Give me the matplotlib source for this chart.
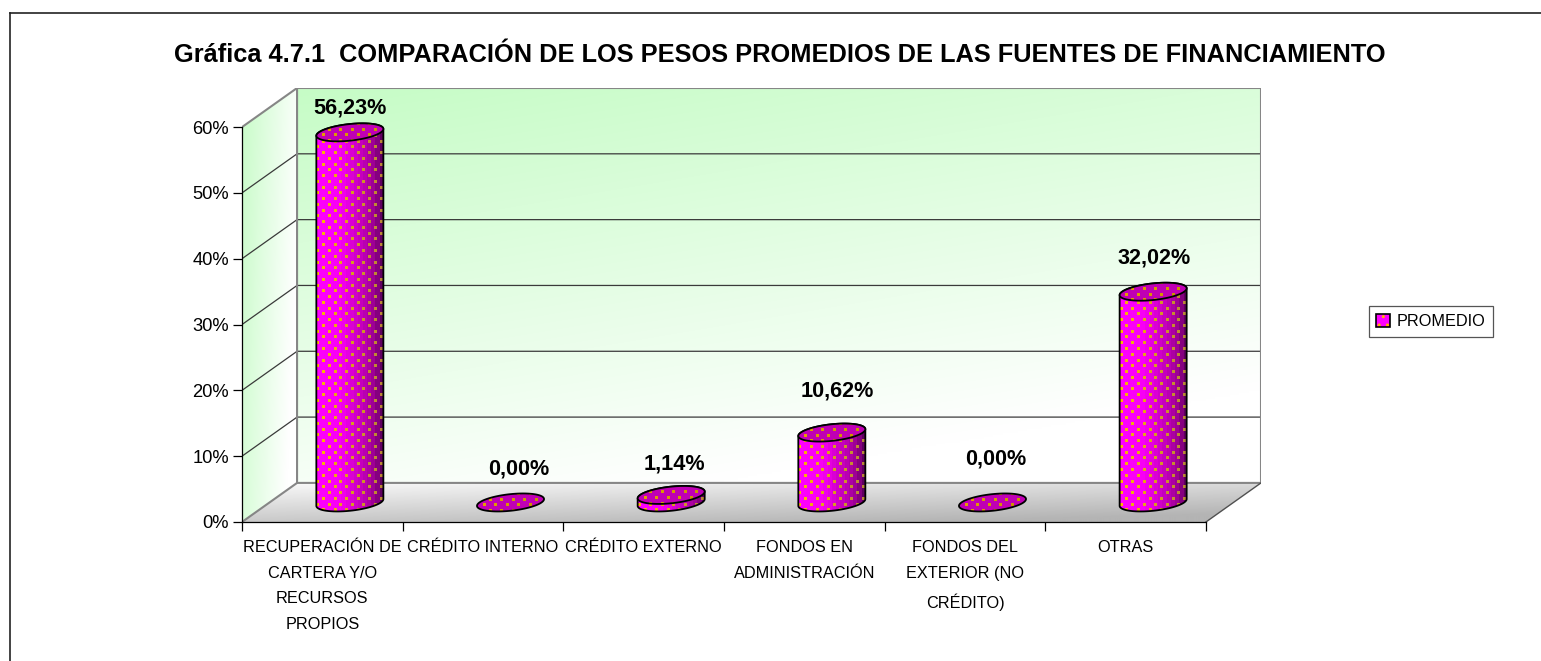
import numpy as np
import matplotlib
matplotlib.use('Agg')
import matplotlib.pyplot as plt
from matplotlib.colors import LinearSegmentedColormap, to_rgb
from matplotlib.legend_handler import HandlerTuple
from matplotlib.lines import Line2D
from matplotlib.patches import Patch, Polygon

# Chart values
categories = ['RECUPERACIÓN DE\nCARTERA Y/O\nRECURSOS\nPROPIOS', 'CRÉDITO INTERNO', 'CRÉDITO EXTERNO',
              'FONDOS EN\nADMINISTRACIÓN', 'FONDOS DEL\nEXTERIOR (NO\nCRÉDITO)', 'OTRAS']
promedio = [56.23, 0.00, 1.14, 10.62, 0.00, 32.02]
value_labels = ['56,23%', '0,00%', '1,14%', '10,62%', '0,00%', '32,02%']
y_ticks = [0, 10, 20, 30, 40, 50, 60]
y_tick_labels = ['0%', '10%', '20%', '30%', '40%', '50%', '60%']
series_name = 'PROMEDIO'
title = 'Gráfica 4.7.1  COMPARACIÓN DE LOS PESOS PROMEDIOS DE LAS FUENTES DE FINANCIAMIENTO'

# Label offsets from the bar top, in pixels
label_offsets = [(0, 24), (8, 33), (3, 31), (5, 42), (3, 43), (1, 34)]

plt.rcParams['font.family'] = ['Liberation Sans', 'DejaVu Sans']

W, H = 1541, 661
DPI = 100
PX = 72 / DPI

# Oblique depth of the box, in data units
DX = 55 / 160.5
DY = 39 / 6.567
XMAX = len(categories)
YMAX = 60

fig = plt.figure(figsize=(W / DPI, H / DPI), dpi=DPI)
ax = fig.add_axes([242 / W, 1 - 522 / H, (1261 - 242) / W, (522 - 88) / H])
ax.patch.set_visible(False)
ax.set_autoscale_on(False)
ax.set_xlim(0, XMAX + DX)
ax.set_ylim(0, YMAX + DY)


def gradient_fill(corners, image, cmap=None, zorder=1):
    # Fills a polygon with an image clipped to it
    xs = [c[0] for c in corners]
    ys = [c[1] for c in corners]
    im = ax.imshow(image, extent=(min(xs), max(xs), min(ys), max(ys)), origin='lower',
                   aspect='auto', cmap=cmap, interpolation='bilinear', zorder=zorder)
    poly = Polygon(corners, closed=True, transform=ax.transData, facecolor='none', edgecolor='none')
    ax.add_patch(poly)
    im.set_clip_path(poly)


def two_colour(t, c0, c1):
    c0 = np.array(to_rgb(c0))
    c1 = np.array(to_rgb(c1))
    return c0 + (c1 - c0) * np.clip(t, 0, 1)[..., None]


# Walls and floor
u, v = np.meshgrid(np.linspace(0, 1, 200), np.linspace(0, 1, 200))
back_t = (1 - v) * 0.85 + u * 0.35
gradient_fill([(DX, DY), (XMAX + DX, DY), (XMAX + DX, YMAX + DY), (DX, YMAX + DY)],
              two_colour(back_t, '#c6fcc6', '#ffffff'))
gradient_fill([(0, 0), (DX, DY), (DX, YMAX + DY), (0, YMAX)],
              two_colour(u * 0.9 + (1 - v) * 0.3, '#c8fcc8', '#ffffff'))
gradient_fill([(0, 0), (XMAX, 0), (XMAX + DX, DY), (DX, DY)],
              two_colour((1 - v) * 0.7 + u * 0.45, '#fbfbfb', '#b4b4b4'))

# Grid lines on the back and side walls
for tick in y_ticks[1:-1]:
    ax.plot([0, DX, XMAX + DX], [tick, tick + DY, tick + DY], color='#3a3a3a', lw=0.9, zorder=2)

# Box edges
edge_grey = '#868686'
ax.plot([0, DX, DX], [0, DY, YMAX + DY], color=edge_grey, lw=1.5, zorder=3)
ax.plot([0, DX, XMAX + DX, XMAX + DX, DX], [YMAX, YMAX + DY, YMAX + DY, DY, DY], color=edge_grey, lw=1.5, zorder=3)
ax.plot([XMAX, XMAX + DX], [0, DY], color='#505050', lw=1, zorder=3)

# Cylinders
band_cmap = LinearSegmentedColormap.from_list(
    'bands', [(0, '#ff00ff'), (0.35, '#f800f4'), (0.7, '#c000b8'), (0.9, '#98008f'), (1, '#600060')], N=16)
RX = 31 / 160.5
F = 0.23
t0 = np.arctan2(F * DX, RX)
half = np.hypot(RX, F * DX)
STEP_X = 5.75 / 160.5
STEP_Y = 5.75 / 6.567


def ring(cx, level, t):
    return np.column_stack([cx + RX * np.cos(t) + F * DX * np.sin(t), level + F * DY * np.sin(t)])


def dots(cx, low, high, clip, base, dark, zorder):
    col_x = np.arange(cx - half + 0.01, cx + half, STEP_X)
    row_y = np.arange(low, high, STEP_Y)
    gx, gy = np.meshgrid(col_x, row_y)
    ci, ri = np.meshgrid(np.arange(len(col_x)), np.arange(len(row_y)))
    keep = (ci + ri) % 2 == 0
    frac = (gx[keep] - (cx - half)) / (2 * half)
    sc = ax.scatter(gx[keep], gy[keep], s=(3.0 * PX) ** 2, marker='s', linewidths=0,
                    c=two_colour(frac, base, dark), zorder=zorder)
    sc.set_snap(True)
    sc.set_clip_path(clip)


for i, value in enumerate(promedio):
    cx = i + 0.5 + DX / 2
    base_y = DY / 2
    top_y = base_y + value
    z = 5 + i * 0.1
    if value > 0:
        upper = ring(cx, top_y, np.linspace(t0, t0 + np.pi, 60))
        lower = ring(cx, base_y, np.linspace(t0 + np.pi, t0 + 2 * np.pi, 60))
        outline = np.vstack([upper, lower])
        band = np.linspace(0, 1, 256)[None, :]
        im = ax.imshow(band, extent=(cx - half, cx + half, 0, top_y + DY), origin='lower', aspect='auto',
                       cmap=band_cmap, interpolation='nearest', zorder=z)
        body = Polygon(outline, closed=True, transform=ax.transData, facecolor='none',
                       edgecolor='black', lw=1.3, zorder=z + 0.03)
        ax.add_patch(body)
        im.set_clip_path(body)
        dots(cx, base_y - 2, top_y + 2, body, '#ffb800', '#b88438', z + 0.02)
    cap = Polygon(ring(cx, top_y, np.linspace(0, 2 * np.pi, 120)), closed=True, facecolor='#c000b4',
                  edgecolor='none', zorder=z + 0.04)
    ax.add_patch(cap)
    dots(cx, top_y - 3, top_y + 3, cap, '#e8a000', '#c89000', z + 0.05)
    ax.add_patch(Polygon(ring(cx, top_y, np.linspace(0, 2 * np.pi, 120)), closed=True, facecolor='none',
                         edgecolor='black', lw=1.3, zorder=z + 0.06))
    ax.annotate(value_labels[i], xy=(cx, top_y),
                xytext=(label_offsets[i][0] * PX, label_offsets[i][1] * PX), textcoords='offset points',
                ha='center', va='center', fontsize=15.6, fontweight='bold', color='black',
                annotation_clip=False, zorder=20)

# Axes
for side in ['top', 'right']:
    ax.spines[side].set_visible(False)
ax.spines['left'].set_bounds(0, YMAX)
ax.spines['bottom'].set_bounds(0, XMAX)
for side in ['left', 'bottom']:
    ax.spines[side].set_linewidth(0.9)
    ax.spines[side].set_zorder(4)
ax.set_yticks(y_ticks)
ax.set_yticklabels(y_tick_labels, fontsize=13.2)
ax.set_xticks(np.arange(XMAX + 1))
ax.set_xticklabels([])
ax.set_xticks(np.arange(XMAX) + 0.5, minor=True)
ax.set_xticklabels(categories, minor=True, fontsize=11.7, linespacing=1.88, va='top')
ax.tick_params(axis='both', which='major', direction='out', length=6.5, width=0.9, color='black')
ax.tick_params(axis='y', pad=3)
ax.tick_params(axis='x', which='minor', length=0, pad=13)

# Legend
swatch = Patch(facecolor='#ff00ff', edgecolor='#ffb400', hatch='..', lw=0)
swatch_edge = Patch(facecolor='none', edgecolor='black', lw=1.2)
leg = ax.legend([(swatch, swatch_edge)], [series_name], handler_map={tuple: HandlerTuple(ndivide=1, pad=0)},
                loc='center', bbox_to_anchor=((1372 + 1490) / 2 / W, 1 - 321.5 / H),
                bbox_transform=fig.transFigure, fontsize=11.7, fancybox=False, framealpha=1,
                edgecolor='#555555', handlelength=0.85, handleheight=0.85, handletextpad=0.4,
                borderpad=0.46, borderaxespad=0)
leg.get_frame().set_linewidth(0.9)

# Title and the frame lines on the top and left
fig.text(779.5 / W, 1 - 55 / H, title, ha='center', va='center', fontsize=18.3, fontweight='bold', color='black')
fig.add_artist(Line2D([10 / W, 1], [1 - 13 / H, 1 - 13 / H], color='#222222', lw=1.2))
fig.add_artist(Line2D([10 / W, 10 / W], [1 - 13 / H, 0], color='#222222', lw=1.2))

fig.savefig('out.png', dpi=DPI, facecolor='white')
